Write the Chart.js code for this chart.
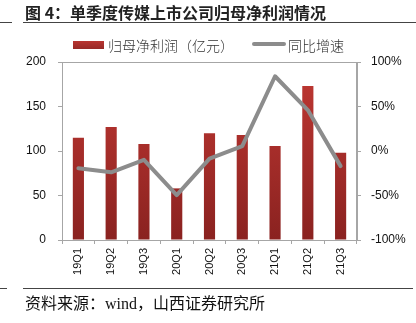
<!DOCTYPE html>
<html><head><meta charset="utf-8">
<script src="https://cdn.jsdelivr.net/npm/chart.js@4/dist/chart.umd.min.js"></script>
<style>
html,body{margin:0;padding:0;background:#fff;}
#wrap{position:relative;width:416px;height:323px;overflow:hidden;}
#c{position:absolute;left:0;top:0;}
.t{position:absolute;white-space:nowrap;}
#title{left:25px;top:0px;font:bold 16px "Noto Sans CJK SC";color:#222;}
.hl{position:absolute;height:1px;background:#444;}
#lg1box{position:absolute;left:73px;top:41px;width:31px;height:8px;background:linear-gradient(#b83430,#962826);}
#lg1{left:108px;top:35px;font:300 14px "Noto Sans CJK SC";color:#333;}
#lg2line{position:absolute;left:252px;top:42px;width:34px;height:4px;border-radius:2px;background:#8c8c8c;}
#lg2{left:288px;top:35px;font:300 14px "Noto Sans CJK SC";color:#333;}
#foot{left:25px;top:290px;font:16px "Liberation Serif","Noto Sans CJK SC";color:#111;}
</style></head>
<body><div id="wrap">
<canvas id="c" width="416" height="323"></canvas>
<div class="t" id="title">图 4：单季度传媒上市公司归母净利润情况</div>
<div class="hl" style="left:0;top:22px;width:12px;"></div>
<div class="hl" style="left:23px;top:22px;width:393px;"></div>
<div id="lg1box"></div><div class="t" id="lg1">归母净利润（亿元）</div>
<div id="lg2line"></div><div class="t" id="lg2">同比增速</div>
<div class="hl" style="left:0;top:288px;width:7px;"></div>
<div class="hl" style="left:23px;top:288px;width:390px;"></div>
<div class="t" id="foot">资料来源：wind，山西证券研究所</div>
</div>
<script>
const categories = ["19Q1","19Q2","19Q3","20Q1","20Q2","20Q3","21Q1","21Q2","21Q3"];
const netProfit = [115, 127, 108, 58, 120, 118, 105.5, 173, 98];
const yoyGrowth = [-19.5, -24, -10, -49.5, -8.5, 5.5, 84, 46, -17];
const leftTicks = [0, 50, 100, 150, 200];
const rightTicks = [-100, -50, 0, 50, 100];

const axisColor = '#a6a6a6';
const tickFont = {family: 'Liberation Sans', size: 12};

const borderPlugin = {
  id: 'border',
  beforeDatasetsDraw(chart) {
    const {ctx, chartArea: a} = chart;
    ctx.save();
    ctx.strokeStyle = axisColor; ctx.lineWidth = 1;
    ctx.strokeRect(a.left + 0.5, a.top + 0.5, a.right - a.left - 1, a.bottom - a.top);
    ctx.restore();
  }
};

new Chart(document.getElementById('c'), {
  data: {
    labels: categories,
    datasets: [
      {
        type: 'line', label: '同比增速', data: yoyGrowth, yAxisID: 'y2',
        borderColor: '#8c8c8c', borderWidth: 4, pointRadius: 0, tension: 0, order: 0,
        borderJoinStyle: 'round', borderCapStyle: 'round'
      },
      {
        type: 'bar', label: '归母净利润（亿元）', data: netProfit, yAxisID: 'y',
        order: 1, barPercentage: 0.34, categoryPercentage: 1,
        backgroundColor(ctx) {
          const ch = ctx.chart; const a = ch.chartArea;
          if (!a) return '#a82e2b';
          const g = ch.ctx.createLinearGradient(0, a.top, 0, a.bottom);
          g.addColorStop(0, '#c13833');
          g.addColorStop(1, '#8a2220');
          return g;
        }
      }
    ]
  },
  options: {
    responsive: false, animation: false,
    layout: {padding: {top: 62, left: 0, right: 0, bottom: 0}},
    plugins: {legend: {display: false}, tooltip: {enabled: false}},
    scales: {
      x: {
        offset: true,
        grid: {display: true, drawOnChartArea: false, color: axisColor, tickLength: 4, offset: true},
        border: {color: axisColor},
        ticks: {font: {family: 'Liberation Sans', size: 11}, color: '#111', minRotation: 90, maxRotation: 90, padding: 4},
        afterFit(s) { s.height = 83; }
      },
      y: {
        position: 'left', min: 0, max: 200,
        afterBuildTicks(s) { s.ticks = leftTicks.map(v => ({value: v})); },
        grid: {display: true, drawOnChartArea: false, color: axisColor, tickLength: 4},
        border: {color: axisColor},
        ticks: {font: tickFont, color: '#111', padding: 12},
        afterFit(s) { s.width = 62; }
      },
      y2: {
        position: 'right', min: -100, max: 100,
        afterBuildTicks(s) { s.ticks = rightTicks.map(v => ({value: v})); },
        grid: {display: true, drawOnChartArea: false, color: axisColor, tickLength: 4},
        border: {color: axisColor},
        ticks: {font: tickFont, color: '#111', padding: 10, callback: v => v + '%'},
        afterFit(s) { s.width = 59; }
      }
    }
  },
  plugins: [borderPlugin]
});
</script>
</body></html>
